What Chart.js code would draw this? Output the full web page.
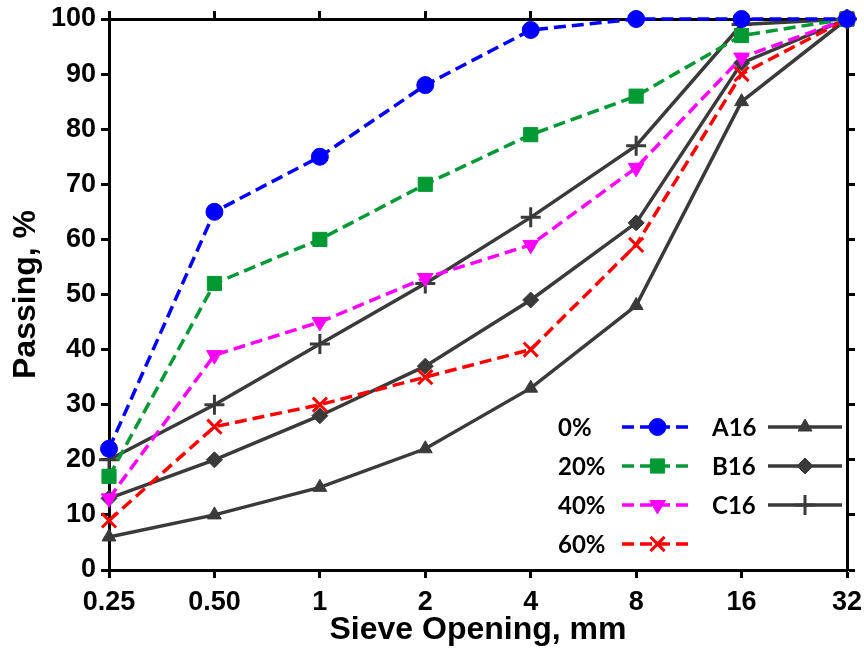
<!DOCTYPE html>
<html>
<head>
<meta charset="utf-8">
<script src="https://cdn.jsdelivr.net/npm/chart.js@4.4.1/dist/chart.umd.min.js"></script>
<style>
  body { margin: 0; background: #fff; }
  #wrap { width: 864px; height: 660px; }
</style>
</head>
<body>
<div id="wrap"><canvas id="myCanvas" width="864" height="660"></canvas></div>
<script>
// sieve sizes (mm) and passing percentages
var sieves = ["0.25", "0.50", "1", "2", "4", "8", "16", "32"];
var yTicks = [0, 10, 20, 30, 40, 50, 60, 70, 80, 90, 100];

var pass0 = [22, 65, 75, 88, 98, 100, 100, 100];
var pass20 = [17, 52, 60, 70, 79, 86, 97, 100];
var pass40 = [13, 39, 45, 53, 59, 73, 93, 100];
var pass60 = [9, 26, 30, 35, 40, 59, 90, 100];
var passA16 = [6, 10, 15, 22, 33, 48, 85, 100];
var passB16 = [13, 20, 28, 37, 49, 63, 92, 100];
var passC16 = [20, 30, 41, 52, 64, 77, 99, 100];

var grey = "#3a3a3a";
var fontTick = { family: "'Liberation Sans', Arial, sans-serif", size: 27, weight: "bold" };
var fontTitle = { family: "'Liberation Sans', Arial, sans-serif", size: 32, weight: "bold" };

function serie(label, data, color, style, radius, dashed, rot, bw) {
  return {
    label: label,
    data: data,
    borderColor: color,
    backgroundColor: color,
    borderWidth: 3.5,
    borderDash: dashed ? [12, 6] : [],
    pointStyle: style,
    pointRadius: radius,
    pointHoverRadius: radius,
    pointRotation: rot || 0,
    pointBackgroundColor: color,
    pointBorderColor: color,
    pointBorderWidth: bw || 1,
    tension: 0,
    clip: false
  };
}

var series = [
  serie("0%", pass0, "#0000ff", "circle", 8.5, true),
  serie("20%", pass20, "#009933", "rect", 10, true),
  serie("40%", pass40, "#ff00ff", "triangle", 9, true, 180),
  serie("60%", pass60, "#ff0000", "crossRot", 10, true, 0, 3),
  serie("A16", passA16, grey, "triangle", 8, false),
  serie("B16", passB16, grey, "rectRot", 8, false),
  serie("C16", passC16, grey, "cross", 10, false, 0, 3)
];

// legend drawn inside the plot: two columns, label then sample
var legendPlugin = {
  id: "legendInside",
  afterDraw: function (chart) {
    var ctx = chart.ctx;
    var rows = [
      [0, 558, 622, 693, 427], [1, 558, 622, 693, 466], [2, 558, 622, 693, 505], [3, 558, 622, 693, 544],
      [4, 712, 768, 842, 427], [5, 712, 768, 842, 466], [6, 712, 768, 842, 505]
    ];
    ctx.save();
    rows.forEach(function (r) {
      var ds = chart.data.datasets[r[0]];
      ctx.font = "bold 24px Lato, 'Open Sans', sans-serif";
      ctx.fillStyle = "#000";
      ctx.textBaseline = "middle";
      ctx.textAlign = "left";
      ctx.fillText(ds.label, r[1], r[4] + 1);
      ctx.strokeStyle = ds.borderColor;
      ctx.lineWidth = 3.5;
      ctx.setLineDash(ds.borderDash);
      ctx.beginPath();
      ctx.moveTo(r[2], r[4]);
      ctx.lineTo(r[3], r[4]);
      ctx.stroke();
      ctx.setLineDash([]);
      ctx.fillStyle = ds.pointBackgroundColor;
      ctx.lineWidth = ds.pointBorderWidth;
      Chart.helpers.drawPoint(ctx, {
        pointStyle: ds.pointStyle,
        radius: ds.pointRadius,
        rotation: ds.pointRotation,
        borderWidth: ds.pointBorderWidth
      }, (r[2] + r[3]) / 2, r[4]);
    });
    ctx.restore();
  }
};

var whiteBg = {
  id: "whiteBg",
  beforeDraw: function (chart) {
    var ctx = chart.ctx;
    ctx.save();
    ctx.fillStyle = "#fff";
    ctx.fillRect(0, 0, chart.width, chart.height);
    ctx.restore();
  }
};

var axisGrid = { display: true, drawOnChartArea: false, drawTicks: true, tickLength: 8, tickWidth: 3, color: "#000" };
var axisBorder = { display: true, width: 3, color: "#000" };

// fixed box sizes so the plot area matches the reference
function fixSize(w, h) {
  return function (s) {
    if (w !== null) s.width = w;
    if (h !== null) s.height = h;
    s.paddingLeft = 0;
    s.paddingRight = 0;
    s.paddingTop = 0;
    s.paddingBottom = 0;
  };
}

var config = {
  type: "line",
  data: { labels: sieves, datasets: series },
  plugins: [whiteBg, legendPlugin],
  options: {
    responsive: false,
    animation: false,
    layout: { padding: 0 },
    plugins: { legend: { display: false }, tooltip: { enabled: false } },
    scales: {
      x: {
        type: "category",
        position: "bottom",
        offset: false,
        grid: axisGrid,
        border: axisBorder,
        ticks: { color: "#000", font: fontTick, padding: 8, maxRotation: 0, autoSkip: false },
        title: { display: true, text: "Sieve Opening, mm", color: "#000", font: fontTitle, padding: { top: 0, bottom: 11 } },
        afterFit: fixSize(null, 90)
      },
      x2: {
        type: "category",
        position: "top",
        offset: false,
        grid: axisGrid,
        border: axisBorder,
        ticks: { display: false },
        afterFit: fixSize(null, 19)
      },
      y: {
        position: "left",
        min: 0,
        max: 100,
        afterBuildTicks: function (s) { s.ticks = yTicks.map(function (v) { return { value: v }; }); },
        grid: axisGrid,
        border: axisBorder,
        ticks: { color: "#000", font: fontTick, padding: 5 },
        title: { display: true, text: "Passing, %", color: "#000", font: fontTitle, padding: { top: 7, bottom: 0 } },
        afterFit: fixSize(109, null)
      },
      y2: {
        position: "right",
        min: 0,
        max: 100,
        afterBuildTicks: function (s) { s.ticks = yTicks.map(function (v) { return { value: v }; }); },
        grid: axisGrid,
        border: axisBorder,
        ticks: { display: false },
        afterFit: fixSize(17, null)
      }
    }
  }
};

var ctx = document.getElementById("myCanvas").getContext("2d");
var myChart = new Chart(ctx, config);
</script>
</body>
</html>
